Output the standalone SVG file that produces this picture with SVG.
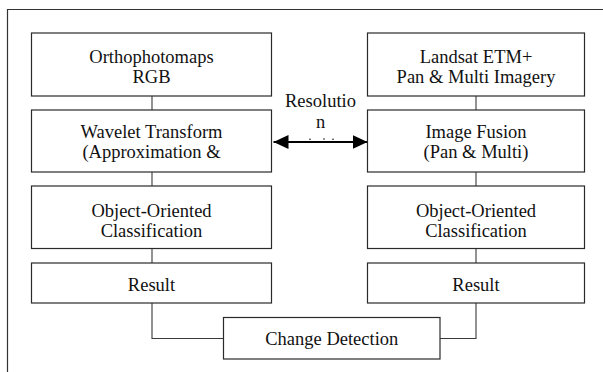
<svg xmlns="http://www.w3.org/2000/svg" width="603" height="372" viewBox="0 0 603 372">
  <style>
    .box { fill: #ffffff; stroke: #2a2a2a; stroke-width: 1.2; }
    .lbl { font-family: "Liberation Serif", "Times New Roman", serif; font-size: 18.5px; fill: #111111; text-anchor: middle; }
    .link { fill: none; stroke: #3a3a3a; stroke-width: 1.1; }
    .frame { fill: none; stroke: #333333; stroke-width: 1.2; }
    .dual { stroke: #000000; stroke-width: 2; fill: none; }
  </style>
  <defs>
    <marker id="head" markerUnits="userSpaceOnUse" markerWidth="15" markerHeight="14" refX="15" refY="7" orient="auto-start-reverse">
      <path d="M0,0 L15,7 L0,14 Z" fill="#000000"/>
    </marker>
  </defs>

  <rect width="603" height="372" fill="#ffffff"/>

  <!-- outer frame (open to the right and bottom) -->
  <path class="frame" d="M7.5,372 V9.5 H603"/>

  <!-- connectors -->
  <g id="connectors">
    <line class="link" x1="152" y1="96" x2="152" y2="110"/>
    <line class="link" x1="152" y1="172" x2="152" y2="186"/>
    <line class="link" x1="152" y1="248.5" x2="152" y2="263"/>
    <line class="link" x1="476" y1="96" x2="476" y2="110"/>
    <line class="link" x1="476" y1="172" x2="476" y2="186"/>
    <line class="link" x1="476" y1="248.5" x2="476" y2="263"/>
    <path class="link" d="M152,303 V338.5 H223.5"/>
    <path class="link" d="M476,303 V338.5 H440"/>
    <line class="dual" x1="273.5" y1="142" x2="367.5" y2="142" marker-start="url(#head)" marker-end="url(#head)"/>
    <g fill="#111111">
      <circle cx="310" cy="139.3" r="0.8"/>
      <circle cx="324" cy="139" r="0.8"/>
      <circle cx="333" cy="139.3" r="0.8"/>
    </g>
    <text class="lbl" x="320.5" y="107.3">Resolutio</text>
    <text class="lbl" x="320.5" y="127.7">n</text>
  </g>

  <!-- left column -->
  <g id="orthophotomaps">
    <rect class="box" x="31.5" y="33" width="240" height="63"/>
    <text class="lbl" x="151.5" y="63">Orthophotomaps</text>
    <text class="lbl" x="151.5" y="82.5">RGB</text>
  </g>
  <g id="wavelet">
    <rect class="box" x="31.5" y="110" width="240" height="62"/>
    <text class="lbl" x="151.5" y="137.5">Wavelet Transform</text>
    <text class="lbl" x="151.5" y="157.5">(Approximation &amp;</text>
  </g>
  <g id="ooc-left">
    <rect class="box" x="31.5" y="186" width="240" height="62.5"/>
    <text class="lbl" x="151.5" y="217">Object-Oriented</text>
    <text class="lbl" x="151.5" y="237">Classification</text>
  </g>
  <g id="result-left">
    <rect class="box" x="31.5" y="263" width="240" height="40"/>
    <text class="lbl" x="151.5" y="291">Result</text>
  </g>

  <!-- right column -->
  <g id="landsat">
    <rect class="box" x="367.5" y="33" width="217" height="63"/>
    <text class="lbl" x="476" y="63">Landsat ETM+</text>
    <text class="lbl" x="476" y="82.5">Pan &amp; Multi Imagery</text>
  </g>
  <g id="fusion">
    <rect class="box" x="367.5" y="110" width="217" height="62"/>
    <text class="lbl" x="476" y="137.5">Image Fusion</text>
    <text class="lbl" x="476" y="157.5">(Pan &amp; Multi)</text>
  </g>
  <g id="ooc-right">
    <rect class="box" x="367.5" y="186" width="217" height="62.5"/>
    <text class="lbl" x="476" y="217">Object-Oriented</text>
    <text class="lbl" x="476" y="237">Classification</text>
  </g>
  <g id="result-right">
    <rect class="box" x="367.5" y="263" width="217" height="40"/>
    <text class="lbl" x="476" y="291">Result</text>
  </g>

  <!-- bottom -->
  <g id="change-detection">
    <rect class="box" x="223.5" y="317.5" width="216.5" height="41.5"/>
    <text class="lbl" x="331.8" y="345">Change Detection</text>
  </g>
</svg>
